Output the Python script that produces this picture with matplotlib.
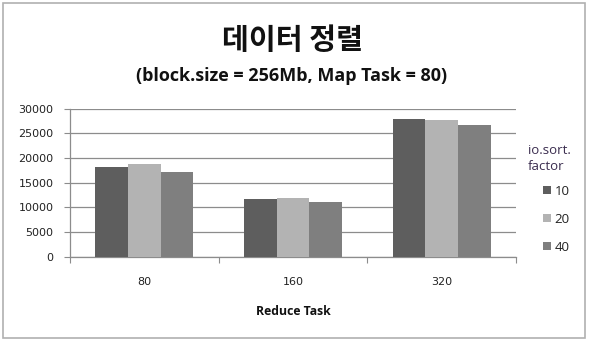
import matplotlib.pyplot as plt
import matplotlib.patches as mpatches
import numpy as np

plt.rcParams['font.family'] = ['Open Sans', 'Noto Sans CJK KR', 'DejaVu Sans']

# data
categories = ['80', '160', '320']
series_names = ['10', '20', '40']
values_10 = [18200, 11700, 28000]
values_20 = [18800, 11900, 27800]
values_40 = [17100, 11000, 26700]
colors = ['#5e5e5e', '#b3b3b3', '#7f7f7f']

fig = plt.figure(figsize=(5.9, 3.42), dpi=100)
# outer chart frame
fig.patches.append(mpatches.Rectangle((3 / 590, 4 / 342), 582 / 590, 335 / 342,
                                      transform=fig.transFigure, fill=False,
                                      edgecolor='#b0b0b0', linewidth=1.2))

ax = fig.add_axes([70 / 590, 85.3 / 342, 446 / 590, 148 / 342])
x = np.arange(len(categories))
w = 0.22
for i, vals in enumerate([values_10, values_20, values_40]):
    ax.bar(x + (i - 1) * w, vals, width=w, color=colors[i], label=series_names[i],
           zorder=3)

ax.set_xlim(-0.5, 2.5)
ax.set_ylim(0, 30000)
ax.set_yticks(np.arange(0, 30001, 5000))
ax.yaxis.grid(True, color='#8c8c8c', linewidth=0.9, zorder=0)
for s in ['top', 'right']:
    ax.spines[s].set_visible(False)
for s in ['left', 'bottom']:
    ax.spines[s].set_color('#8c8c8c')
    ax.spines[s].set_linewidth(0.9)
ax.tick_params(axis='y', length=4, color='#8c8c8c', labelsize=8, pad=8,
               labelcolor='#222222')
for lab in ax.get_yticklabels():
    lab.set_family('DejaVu Sans')
ax.set_xticks([-0.5, 0.5, 1.5, 2.5])
ax.set_xticklabels([])
ax.tick_params(axis='x', length=4, color='#8c8c8c')
for xi, c in zip(x, categories):
    ax.text(xi, -0.17, c, transform=ax.get_xaxis_transform(), ha='center',
            va='center', fontsize=8, family='DejaVu Sans', color='#222222')
ax.text(1, -0.37, 'Reduce Task', transform=ax.get_xaxis_transform(), ha='center',
        va='center', fontsize=8.8, fontweight='bold', color='#111111')

fig.text(292 / 590, 1 - 40.5 / 342, '데이터 정렬', ha='center', va='center',
         fontsize=21, fontweight='bold', family=['Noto Sans CJK KR'], color='#111111')
fig.text(292 / 590, 1 - 76 / 342, '(block.size = 256Mb, Map Task = 80)', ha='center',
         va='center', fontsize=13, fontweight='bold', color='#111111')

fig.text(528 / 590, 1 - 159 / 342, 'io.sort.\nfactor', ha='left', va='center',
         fontsize=9.5, color='#3b2d4f', linespacing=1.3)
leg = ax.legend(loc='upper left', bbox_to_anchor=(536 / 590, 1 - 178 / 342),
                bbox_transform=fig.transFigure, frameon=False, fontsize=9.5,
                handlelength=0.6, handleheight=0.6, handletextpad=0.3,
                labelspacing=1.15, borderpad=0)
for t in leg.get_texts():
    t.set_color('#222222')

fig.savefig('out.png', dpi=100)
